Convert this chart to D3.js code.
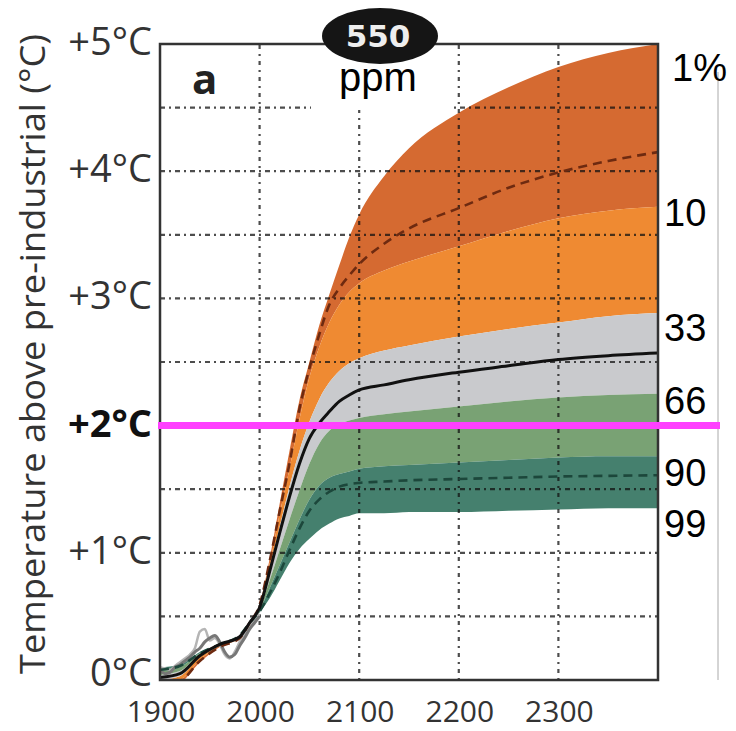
<!DOCTYPE html>
<html>
<head>
<meta charset="utf-8">
<script src="https://cdn.jsdelivr.net/npm/d3@7"></script>
<style>
  body { margin: 0; background: #fff; }
  svg { display: block; }
</style>
</head>
<body>
<div id="chart"></div>
<script>
// years sampled along the curves
var years = [1900, 1920, 1940, 1960, 1980, 1990, 2000, 2010, 2020, 2030, 2040, 2050, 2060, 2070, 2080, 2090, 2100, 2125, 2150, 2200, 2250, 2300, 2350, 2400];

// percentile curves (deg C above pre-industrial)
var p1  = [-0.05, -0.02, 0.14, 0.26, 0.33, 0.45, 0.60, 0.95, 1.38, 1.80, 2.20, 2.50, 2.79, 3.03, 3.26, 3.48, 3.66, 3.96, 4.18, 4.46, 4.66, 4.82, 4.93, 5.00];
var p5  = [-0.04, -0.01, 0.15, 0.26, 0.33, 0.45, 0.59, 0.93, 1.32, 1.70, 2.13, 2.45, 2.72, 2.95, 3.08, 3.18, 3.27, 3.43, 3.55, 3.71, 3.87, 3.99, 4.08, 4.15];
var p10 = [-0.03, 0.00, 0.16, 0.27, 0.34, 0.45, 0.59, 0.91, 1.30, 1.66, 2.05, 2.38, 2.62, 2.81, 2.95, 3.05, 3.12, 3.22, 3.29, 3.41, 3.53, 3.63, 3.69, 3.72];
var p33 = [0.00, 0.03, 0.18, 0.27, 0.34, 0.45, 0.58, 0.88, 1.20, 1.52, 1.80, 2.03, 2.21, 2.34, 2.43, 2.49, 2.53, 2.59, 2.63, 2.70, 2.76, 2.81, 2.86, 2.885];
var p50 = [0.02, 0.05, 0.19, 0.28, 0.34, 0.45, 0.57, 0.85, 1.15, 1.44, 1.70, 1.90, 2.02, 2.11, 2.19, 2.24, 2.28, 2.32, 2.36, 2.42, 2.47, 2.52, 2.55, 2.57];
var p66 = [0.04, 0.07, 0.20, 0.28, 0.34, 0.45, 0.56, 0.78, 1.02, 1.26, 1.49, 1.70, 1.86, 1.96, 2.01, 2.04, 2.06, 2.09, 2.11, 2.15, 2.19, 2.22, 2.24, 2.25];
var p90 = [0.07, 0.10, 0.21, 0.28, 0.35, 0.45, 0.55, 0.72, 0.90, 1.08, 1.26, 1.42, 1.53, 1.59, 1.62, 1.64, 1.66, 1.68, 1.69, 1.71, 1.73, 1.75, 1.76, 1.76];
var p95 = [0.08, 0.11, 0.21, 0.28, 0.35, 0.45, 0.54, 0.68, 0.84, 1.02, 1.19, 1.33, 1.42, 1.48, 1.52, 1.54, 1.55, 1.56, 1.57, 1.58, 1.59, 1.60, 1.605, 1.61];
var p99 = [0.10, 0.12, 0.22, 0.28, 0.35, 0.45, 0.53, 0.64, 0.78, 0.92, 1.03, 1.11, 1.18, 1.23, 1.27, 1.29, 1.31, 1.31, 1.32, 1.32, 1.33, 1.34, 1.35, 1.35];

// observed record
var obsYears = [1900, 1905, 1910, 1915, 1920, 1925, 1930, 1935, 1940, 1945, 1950, 1955, 1960, 1965, 1970, 1975, 1980, 1985, 1990, 1995, 2000];
var obsA = [0.08, 0.05, 0.06, 0.10, 0.12, 0.15, 0.18, 0.22, 0.25, 0.30, 0.33, 0.35, 0.30, 0.22, 0.18, 0.20, 0.27, 0.33, 0.40, 0.45, 0.50];
var obsB = [0.10, 0.09, 0.08, 0.11, 0.14, 0.17, 0.20, 0.25, 0.38, 0.40, 0.31, 0.33, 0.28, 0.20, 0.17, 0.22, 0.30, 0.36, 0.42, 0.47, 0.52];

var yTicks = [0, 1, 2, 3, 4, 5];
var yGrid = [0.5, 1, 1.5, 2.5, 3, 3.5, 4, 4.5];
var xTicks = [1900, 2000, 2100, 2200, 2300];
var xGrid = [2000, 2100, 2200, 2300];
var pctLabels = ["1%", "10", "33", "66", "90", "99"];
var pctLabelAt = [4.81, 3.67, 2.77, 2.19, 1.63, 1.23];
var threshold = 2;

var width = 736, height = 731,
    margin = { top: 44, right: 78, bottom: 51, left: 160 };

var x = d3.scaleLinear().domain([1900, 2400]).range([margin.left, width - margin.right]);
var y = d3.scaleLinear().domain([0, 5]).range([height - margin.bottom, margin.top]);

var svg = d3.select("#chart").append("svg")
    .attr("width", width)
    .attr("height", height);

svg.append("clipPath").attr("id", "plot")
  .append("rect")
    .attr("x", x(1900)).attr("y", y(5))
    .attr("width", x(2400) - x(1900)).attr("height", y(0) - y(5));

var plot = svg.append("g").attr("clip-path", "url(#plot)");

// shaded bands between percentile curves
var bands = [
  { lo: p10, hi: p1, color: "#d56a31" },
  { lo: p33, hi: p10, color: "#ef8a32" },
  { lo: p66, hi: p33, color: "#c9cacd" },
  { lo: p90, hi: p66, color: "#79a274" },
  { lo: p99, hi: p90, color: "#45806e" }
];

var area = d3.area()
    .curve(d3.curveMonotoneX)
    .x(function (d) { return x(d.year); })
    .y0(function (d) { return y(d.lo); })
    .y1(function (d) { return y(d.hi); });

plot.selectAll("path.band")
    .data(bands)
  .enter().append("path")
    .attr("class", "band")
    .attr("fill", function (b) { return b.color; })
    .attr("d", function (b) {
      return area(years.map(function (yr, i) { return { year: yr, lo: b.lo[i], hi: b.hi[i] }; }));
    });

// dotted grid on top of the bands
plot.append("g").selectAll("line")
    .data(yGrid)
  .enter().append("line")
    .attr("x1", x(1900)).attr("x2", x(2400))
    .attr("y1", function (d) { return y(d); })
    .attr("y2", function (d) { return y(d); })
    .attr("stroke", "#111").attr("stroke-opacity", 0.75)
    .attr("stroke-width", 2.2)
    .attr("stroke-dasharray", "5,4,2,4");

plot.append("g").selectAll("line")
    .data(xGrid)
  .enter().append("line")
    .attr("x1", function (d) { return x(d); })
    .attr("x2", function (d) { return x(d); })
    .attr("y1", y(0)).attr("y2", y(5))
    .attr("stroke", "#111").attr("stroke-opacity", 0.75)
    .attr("stroke-width", 2.2)
    .attr("stroke-dasharray", "2,5,4,5");

var line = d3.line()
    .curve(d3.curveMonotoneX)
    .x(function (d) { return x(d[0]); })
    .y(function (d) { return y(d[1]); });

function pairs(xs, ys) {
  return xs.map(function (v, i) { return [v, ys[i]]; });
}

// observations
plot.append("path")
    .attr("d", line(pairs(obsYears, obsB)))
    .attr("fill", "none").attr("stroke", "#b5b5b5").attr("stroke-width", 2.5);
plot.append("path")
    .attr("d", line(pairs(obsYears, obsA)))
    .attr("fill", "none").attr("stroke", "#777").attr("stroke-width", 3);

// dashed percentiles and median
plot.append("path")
    .attr("d", line(pairs(years, p5)))
    .attr("fill", "none").attr("stroke", "#6e2a10").attr("stroke-width", 2.6)
    .attr("stroke-dasharray", "9,6");
plot.append("path")
    .attr("d", line(pairs(years, p95)))
    .attr("fill", "none").attr("stroke", "#1c473b").attr("stroke-width", 2.6)
    .attr("stroke-dasharray", "9,6");
plot.append("path")
    .attr("d", line(pairs(years, p50)))
    .attr("fill", "none").attr("stroke", "#111").attr("stroke-width", 3);

// frame
svg.append("rect")
    .attr("x", x(1900)).attr("y", y(5))
    .attr("width", x(2400) - x(1900)).attr("height", y(0) - y(5))
    .attr("fill", "none").attr("stroke", "#333").attr("stroke-width", 2.5);

// y tick labels
svg.append("g").selectAll("text")
    .data(yTicks)
  .enter().append("text")
    .attr("x", 152)
    .attr("y", function (d) { return y(d) + (d === 0 ? 6 : 11); })
    .attr("text-anchor", "end")
    .attr("font-family", "Open Sans, sans-serif")
    .attr("font-size", "38px")
    .attr("font-weight", function (d) { return d === 2 ? "bold" : "normal"; })
    .attr("fill", function (d) { return d === 2 ? "#111" : "#333"; })
    .text(function (d) { return (d === 0 ? "" : "+") + d + "\u00b0C"; });

// x tick labels
svg.append("g").selectAll("text")
    .data(xTicks)
  .enter().append("text")
    .attr("x", function (d) { return x(d) + 1; })
    .attr("y", 722)
    .attr("text-anchor", "middle")
    .attr("font-family", "Open Sans, sans-serif")
    .attr("font-size", "30px")
    .attr("fill", "#333")
    .text(function (d) { return d; });

// y axis title
svg.append("text")
    .attr("transform", "translate(45,354) rotate(-90)")
    .attr("text-anchor", "middle")
    .attr("font-family", "Open Sans, sans-serif")
    .attr("font-size", "35px")
    .attr("fill", "#333")
    .attr("textLength", 640)
    .attr("lengthAdjust", "spacingAndGlyphs")
    .text("Temperature above pre-industrial (\u00b0C)");

// panel letter
svg.append("text")
    .attr("x", 192).attr("y", 94)
    .attr("font-family", "Open Sans, sans-serif")
    .attr("font-size", "42px").attr("font-weight", "bold")
    .attr("fill", "#222")
    .text("a");

// 550 ppm badge
svg.append("rect")
    .attr("x", 311).attr("y", 50).attr("width", 141).attr("height", 60)
    .attr("fill", "#fff");
svg.append("ellipse")
    .attr("cx", 380).attr("cy", 36).attr("rx", 58).attr("ry", 28)
    .attr("fill", "#151515");
svg.append("text")
    .attr("x", 378).attr("y", 47)
    .attr("text-anchor", "middle")
    .attr("font-family", "DejaVu Sans, sans-serif")
    .attr("font-size", "31px").attr("font-weight", "bold")
    .attr("fill", "#eee")
    .text("550");
svg.append("text")
    .attr("x", 378).attr("y", 91)
    .attr("text-anchor", "middle")
    .attr("font-family", "Liberation Sans, Arial, sans-serif")
    .attr("font-size", "40px")
    .attr("fill", "#000")
    .text("ppm");

// percentile labels on the right
svg.append("line")
    .attr("x1", 718).attr("x2", 718)
    .attr("y1", 72).attr("y2", y(0))
    .attr("stroke", "#aaa").attr("stroke-width", 1);

svg.append("g").selectAll("text")
    .data(pctLabels)
  .enter().append("text")
    .attr("x", function (d, i) { return i === 0 ? 672 : 664; })
    .attr("y", function (d, i) { return y(pctLabelAt[i]) + 13; })
    .attr("font-family", "Liberation Sans, Arial, sans-serif")
    .attr("font-size", "38px")
    .attr("fill", "#000")
    .text(function (d) { return d; });

// +2 degree threshold
svg.append("line")
    .attr("x1", x(1900) - 2).attr("x2", 720)
    .attr("y1", y(threshold)).attr("y2", y(threshold))
    .attr("stroke", "#ff40ff").attr("stroke-width", 7);
</script>
</body>
</html>
